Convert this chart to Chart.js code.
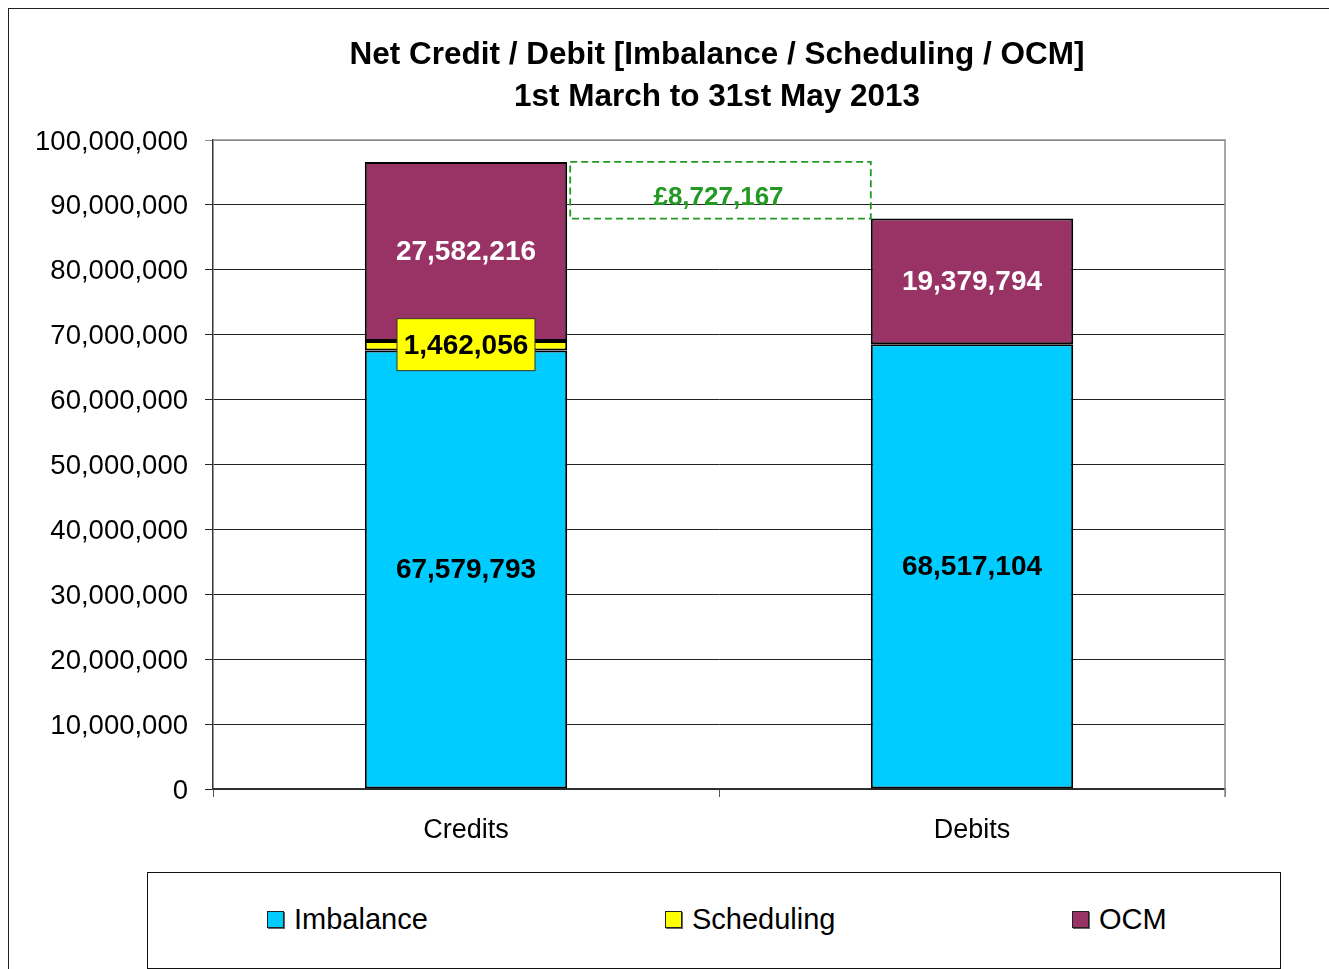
<!DOCTYPE html>
<html>
<head>
<meta charset="utf-8">
<script src="https://cdn.jsdelivr.net/npm/chart.js@4"></script>
<style>
  html, body { margin: 0; padding: 0; background: #fff; overflow: hidden; }
  #wrap { position: relative; width: 1329px; height: 969px; }
  #frame { position: absolute; left: 8px; top: 8px; width: 1400px; height: 1000px; border: 1px solid #222; box-sizing: border-box; pointer-events: none; }
  #legend { position: absolute; left: 147px; top: 872px; width: 1134px; height: 97px; border: 1px solid #111; box-sizing: border-box; background: #fff;
            font-family: "Liberation Sans", Arial, sans-serif; font-size: 29px; color: #000; }
  .item { position: absolute; top: 29px; height: 34px; line-height: 34px; white-space: nowrap; }
  .sw { display: inline-block; width: 15px; height: 15px; border: 1.5px solid #222; box-shadow: 1px 1px 0 #666; vertical-align: middle; margin-right: 10px; position: relative; top: -2px; }
</style>
</head>
<body>
<div id="wrap">
  <canvas id="chart" width="1329" height="969"></canvas>
  <div id="frame"></div>
  <div id="legend"></div>
</div>
<script>
Chart.defaults.font.family = '"Liberation Sans", Arial, sans-serif';
Chart.defaults.color = '#000';

const CATEGORIES = ['Credits', 'Debits'];
const SERIES_NAMES = ['Imbalance', 'Scheduling', 'OCM'];
const IMBALANCE = [67579793, 68517104];
const SCHEDULING = [1462056, 0];
const OCM = [27582216, 19379794];
const SERIES_COLOURS = ['#00CCFF', '#FFFF00', '#993366'];
const LABEL_COLOURS = ['#000', '#000', '#fff'];
const Y_MAX = 100000000;
const Y_STEP = 10000000;
const TITLE_LINES = ['Net Credit / Debit [Imbalance / Scheduling / OCM]', '1st March to 31st May 2013'];

const fmt = v => v.toLocaleString('en-GB');

// legend as plain html, spread across the boxed strip
const legendLeft = [119, 517, 924];
const legendEl = document.getElementById('legend');
SERIES_NAMES.forEach((n, i) => {
    const d = document.createElement('div');
    d.className = 'item';
    d.style.left = legendLeft[i] + 'px';
    d.innerHTML = '<span class="sw" style="background:' + SERIES_COLOURS[i] + '"></span>' + n;
    legendEl.appendChild(d);
});

// title, value labels and the gap box
const decorPlugin = {
    id: 'decor',
    afterDatasetsDraw(chart) {
        const ctx = chart.ctx;
        const area = chart.chartArea;
        const ys = chart.scales.y;

        ctx.save();
        ctx.fillStyle = '#000';
        ctx.font = 'bold 31.5px "Liberation Sans", Arial, sans-serif';
        ctx.textAlign = 'center';
        ctx.textBaseline = 'middle';
        const cx = (area.left + area.right) / 2 - 2;
        ctx.fillText(TITLE_LINES[0], cx, 55);
        ctx.fillText(TITLE_LINES[1], cx, 97);

        // plot frame (grey top / right)
        ctx.strokeStyle = '#8a8a8a';
        ctx.lineWidth = 1.5;
        ctx.beginPath();
        ctx.moveTo(area.left, area.top);
        ctx.lineTo(area.right, area.top);
        ctx.lineTo(area.right, area.bottom + 8);
        ctx.stroke();

        // segment labels
        chart.data.datasets.forEach((ds, di) => {
            const meta = chart.getDatasetMeta(di);
            meta.data.forEach((bar, i) => {
                const v = ds.data[i];
                if (!v) return;
                const y = (bar.y + bar.base) / 2;
                ctx.font = 'bold 28px "Liberation Sans", Arial, sans-serif';
                if (di === 1) {
                    const w = 138, h = 52;
                    ctx.fillStyle = '#FFFF00';
                    ctx.fillRect(bar.x - w / 2, y - h / 2 - 1, w, h);
                    ctx.strokeStyle = '#333';
                    ctx.lineWidth = 1;
                    ctx.strokeRect(bar.x - w / 2, y - h / 2 - 1, w, h);
                    ctx.fillStyle = '#000';
                    ctx.fillText(fmt(v), bar.x, y + 1);
                } else {
                    ctx.fillStyle = LABEL_COLOURS[di];
                    ctx.fillText(fmt(v), bar.x, y + 1);
                }
            });
        });

        // net difference box between the two stack tops
        const totals = CATEGORIES.map((c, i) => IMBALANCE[i] + SCHEDULING[i] + OCM[i]);
        const barsTop = chart.getDatasetMeta(2).data;
        const half = barsTop[0].width / 2;
        const x0 = barsTop[0].x + half + 3;
        const x1 = barsTop[1].x - half;
        const y0 = ys.getPixelForValue(totals[0]);
        const y1 = ys.getPixelForValue(totals[1]);
        ctx.strokeStyle = '#229922';
        ctx.lineWidth = 1.8;
        ctx.setLineDash([7, 4]);
        ctx.strokeRect(x0, y0, x1 - x0, y1 - y0);
        ctx.setLineDash([]);
        ctx.fillStyle = '#229922';
        ctx.font = 'bold 26px "Liberation Sans", Arial, sans-serif';
        ctx.fillText('£' + fmt(totals[0] - totals[1]), (x0 + x1) / 2 - 2, (y0 + y1) / 2 + 8);
        ctx.restore();
    }
};

new Chart(document.getElementById('chart'), {
    type: 'bar',
    data: {
        labels: CATEGORIES,
        datasets: [
            { label: SERIES_NAMES[0], data: IMBALANCE, backgroundColor: SERIES_COLOURS[0] },
            { label: SERIES_NAMES[1], data: SCHEDULING, backgroundColor: SERIES_COLOURS[1] },
            { label: SERIES_NAMES[2], data: OCM, backgroundColor: SERIES_COLOURS[2] }
        ].map(d => Object.assign(d, {
            borderColor: '#000',
            borderWidth: 2,
            borderSkipped: false,
            barPercentage: 0.4,
            categoryPercentage: 1
        }))
    },
    options: {
        responsive: false,
        animation: false,
        layout: { padding: { left: 0, right: 104, top: 140, bottom: 100 } },
        plugins: { legend: { display: false }, tooltip: { enabled: false } },
        scales: {
            x: {
                stacked: true,
                afterFit: s => { s.height = 80; },
                border: { color: '#333', width: 1.5 },
                grid: { drawOnChartArea: false, offset: true, tickLength: 8, color: '#555' },
                ticks: { font: { size: 27 }, padding: 17, color: '#000' }
            },
            y: {
                stacked: true,
                min: 0,
                max: Y_MAX,
                afterFit: s => { s.width = 213; },
                border: { color: '#333', width: 1.5 },
                grid: {
                    tickLength: 8,
                    color: c => c.tick && c.tick.value === Y_MAX ? '#8a8a8a' : '#222',
                    lineWidth: 1
                },
                ticks: { stepSize: Y_STEP, font: { size: 27.5 }, padding: 17, labelOffset: 2, color: '#000', callback: v => fmt(v) }
            }
        }
    },
    plugins: [decorPlugin]
});
</script>
</body>
</html>
